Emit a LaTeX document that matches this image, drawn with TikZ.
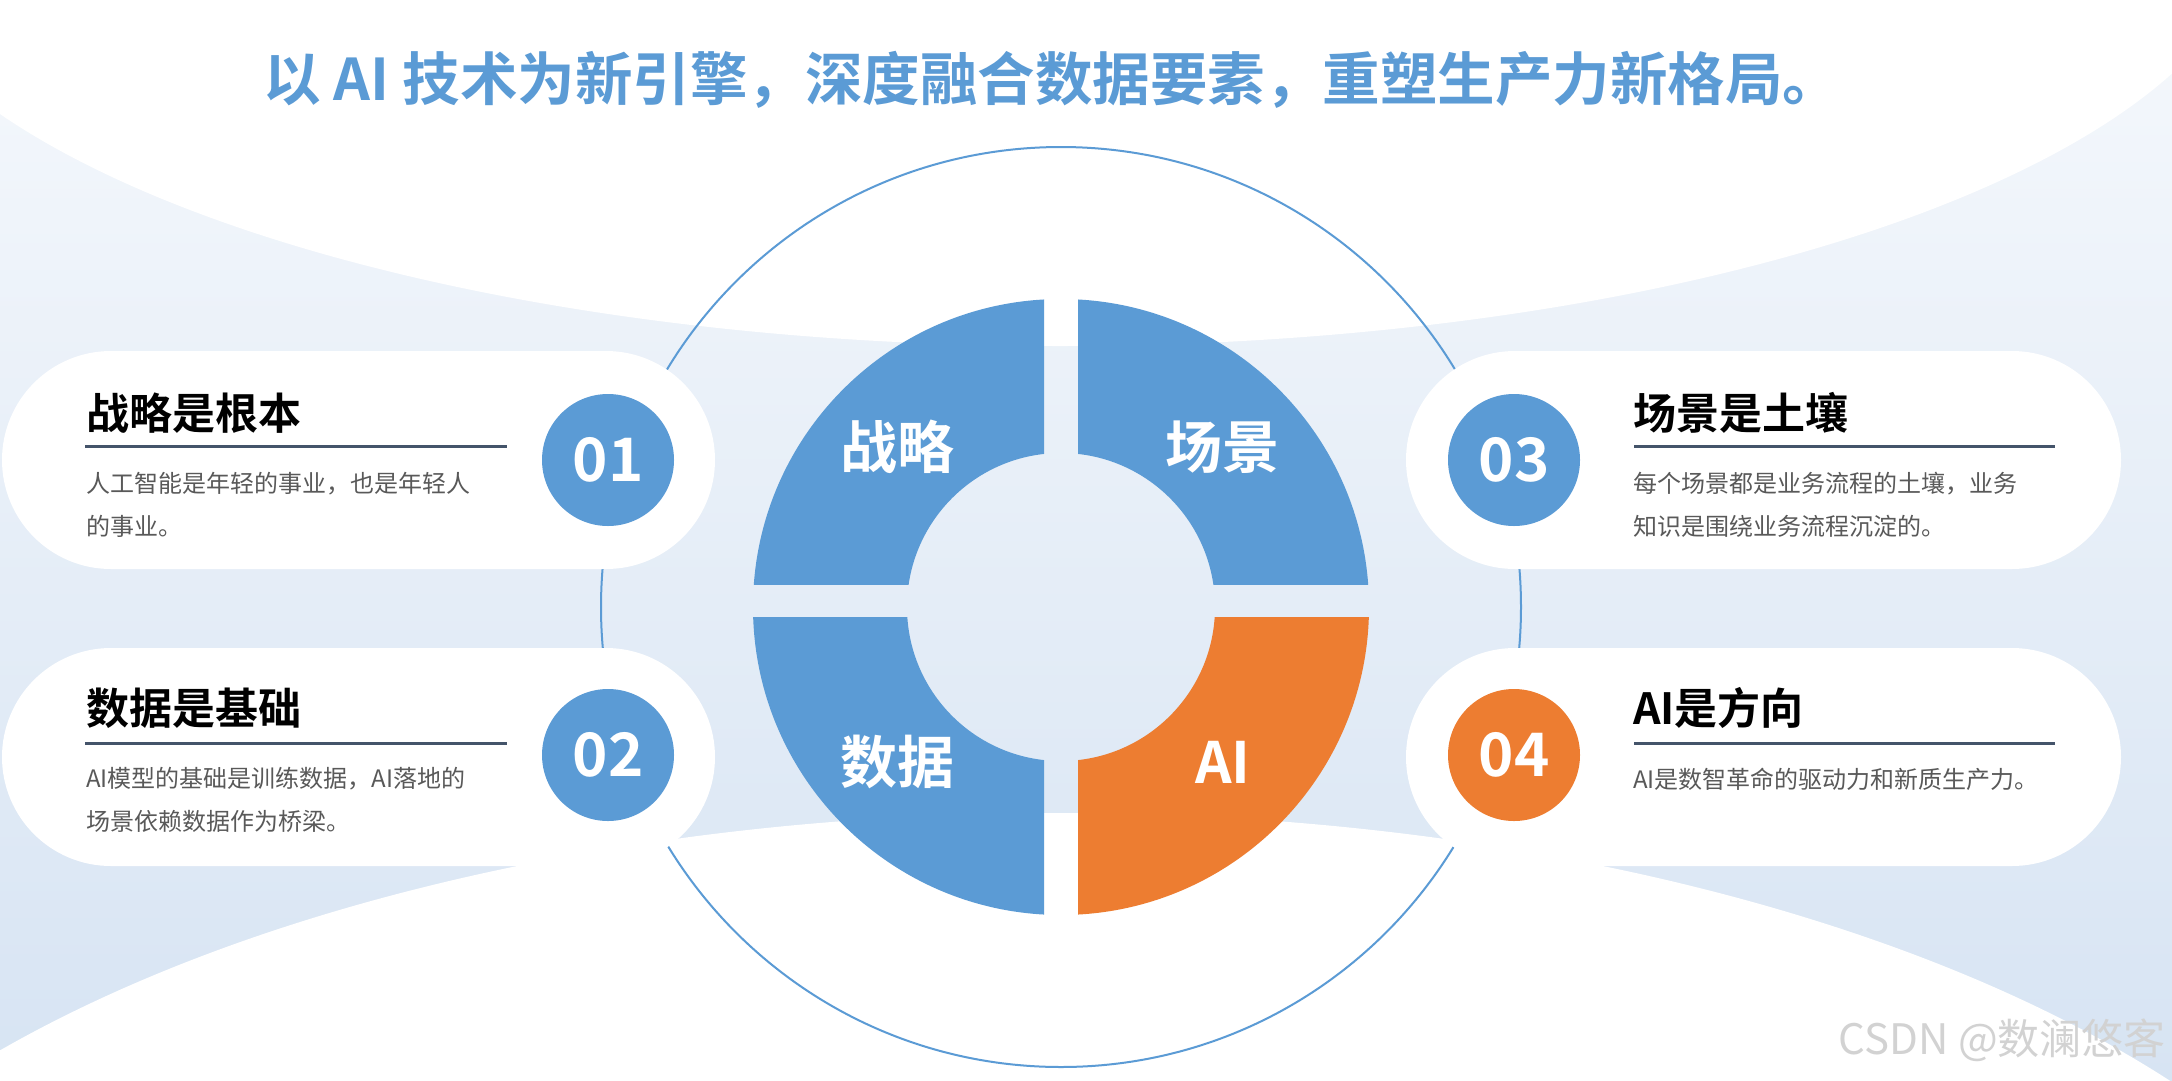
\documentclass[tikz,border=0pt]{standalone}
\usepackage{fontspec}
\setmainfont{Noto Sans CJK SC}[BoldFont={Noto Sans CJK SC Bold}]
\definecolor{cblue}{HTML}{5B9BD5}
\definecolor{corange}{HTML}{ED7D31}
\definecolor{bgtop}{HTML}{F5F8FC}
\definecolor{bgbot}{HTML}{D7E4F3}
\definecolor{slate}{HTML}{44546A}
\definecolor{desc}{HTML}{595959}
\begin{document}
\begin{tikzpicture}[x=1pt,y=-1pt,
  pill/.style={fill=white, rounded corners=109pt},
  badge/.style={circle, minimum size=132pt, inner sep=0pt, text=white,
    font=\fontsize{60}{60}\selectfont\bfseries},
  ringlbl/.style={inner sep=0pt, text=white, font=\fontsize{57}{57}\selectfont\bfseries},
  head/.style={anchor=west, inner sep=0pt, text=black, font=\fontsize{43}{43}\selectfont\bfseries},
  desctxt/.style={anchor=west, inner sep=0pt, text=desc, font=\fontsize{24}{24}\selectfont},
  uline/.style={slate, line width=3pt}]
\useasboundingbox (0,0) rectangle (2172,1080);
% background
\shade[top color=bgtop, bottom color=bgbot] (0,0) rectangle (2172,1080);
\fill[white] (1060,-91) ellipse [x radius=1200, y radius=437];
\fill[white] (1060,1473) ellipse [x radius=1380, y radius=660];
% big circle outline
\draw[cblue, line width=2pt] (1061,607) circle [radius=460];
% pills
\fill[pill] (2,351) rectangle (715,569);
\fill[pill] (2,648) rectangle (715,866);
\fill[pill] (1406,351) rectangle (2121,569);
\fill[pill] (1406,648) rectangle (2121,866);
% ring quadrants
\begin{scope}
  \clip (700,250) rectangle (1044,584);
  \fill[cblue, even odd rule] (1061,607) circle [radius=308] circle [radius=154];
\end{scope}
\begin{scope}
  \clip (1078,250) rectangle (1420,584);
  \fill[cblue, even odd rule] (1061,607) circle [radius=308] circle [radius=154];
\end{scope}
\begin{scope}
  \clip (700,617) rectangle (1044,960);
  \fill[cblue, even odd rule] (1061,607) circle [radius=308] circle [radius=154];
\end{scope}
\begin{scope}
  \clip (1078,617) rectangle (1420,960);
  \fill[corange, even odd rule] (1061,607) circle [radius=308] circle [radius=154];
\end{scope}
\node[ringlbl] (q1) at (897,447) {战略};
\node[ringlbl] (q2) at (1222,447) {场景};
\node[ringlbl] (q3) at (897,762) {数据};
\node[ringlbl] (q4) at (1223,762) {AI};
% badges
\node[badge, fill=cblue] (n1) at (608,460) {01};
\node[badge, fill=cblue] (n2) at (608,755) {02};
\node[badge, fill=cblue] (n3) at (1514,460) {03};
\node[badge, fill=corange] (n4) at (1514,755) {04};
% left texts
\node[head] (h1) at (86,413) {战略是根本};
\draw[uline] (85,446) -- (507,446);
\node[desctxt] (d1a) at (86,484) {人工智能是年轻的事业，也是年轻人};
\node[desctxt] (d1b) at (86,526) {的事业。};
\node[head] (h2) at (86,708) {数据是基础};
\draw[uline] (85,743) -- (507,743);
\node[desctxt] (d2a) at (86,779) {AI模型的基础是训练数据，AI落地的};
\node[desctxt] (d2b) at (86,821) {场景依赖数据作为桥梁。};
% right texts
\node[head] (h3) at (1633,413) {场景是土壤};
\draw[uline] (1634,446) -- (2055,446);
\node[desctxt] (d3a) at (1633,484) {每个场景都是业务流程的土壤，业务};
\node[desctxt] (d3b) at (1633,526) {知识是围绕业务流程沉淀的。};
\node[head] (h4) at (1633,708) {AI是方向};
\draw[uline] (1634,743) -- (2055,743);
\node[desctxt] (d4a) at (1633,779) {AI是数智革命的驱动力和新质生产力。};
% title
\node[anchor=west, inner sep=0pt, text=cblue, font=\fontsize{57.5}{58}\selectfont\bfseries]
  (title) at (263,80) {以 AI 技术为新引擎，深度融合数据要素，重塑生产力新格局。};
% watermark
\node[anchor=east, inner sep=0pt, text=gray!35, font=\fontsize{42}{42}\selectfont]
  (wm) at (2166,1040) {CSDN @数澜悠客};
\end{tikzpicture}
\end{document}
